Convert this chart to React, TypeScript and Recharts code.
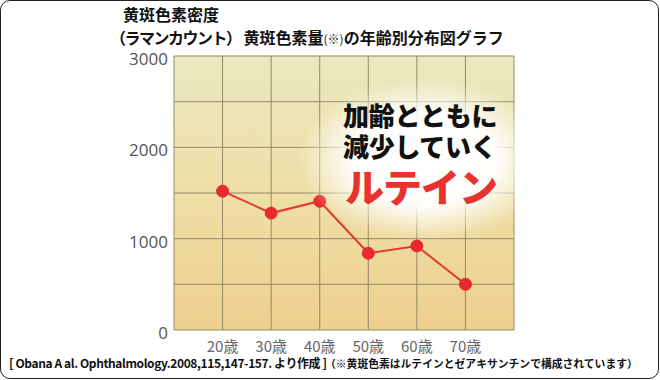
import React from 'react';
import { LineChart, Line, XAxis, YAxis, CartesianGrid } from 'recharts';

const ageLabels = ['20歳', '30歳', '40歳', '50歳', '60歳', '70歳'];
const mpodValues = [1520, 1280, 1410, 840, 920, 500];
const yTicks = [0, 500, 1000, 1500, 2000, 2500, 3000];
const xTicks = [0, 1, 2, 3, 4, 5, 6, 7];

const titleLine1 = '黄斑色素密度';
const titleLine2a = '（ラマンカウント）';
const titleLine2b = '黄斑色素量';
const titleLine2c = '(※)';
const titleLine2d = 'の年齢別分布図グラフ';
const callout1 = '加齢とともに';
const callout2 = '減少していく';
const callout3 = 'ルテイン';
const footer1 = '[ Obana A al. Ophthalmology.2008,115,147-157. より作成 ]';
const footer2 = '（※黄斑色素はルテインとゼアキサンチンで構成されています）';

const data = mpodValues.map((v, i) => ({ x: i + 1, age: ageLabels[i], value: v }));

const jp = '"Noto Sans CJK JP", "Noto Sans", sans-serif';

export default function App() {
  return (
    <div style={{ position: 'absolute', left: 0, top: 0, width: 660, height: 380, background: '#fff', fontFamily: jp }}>
      <LineChart width={660} height={380} data={data} margin={{ top: 56, right: 146, bottom: 20, left: 114 }}>
        <defs>
          <linearGradient id="bgGrad" x1="0" y1="0" x2="0" y2="1">
            <stop offset="0%" stopColor="#e9e8bf" />
            <stop offset="50%" stopColor="#efdfa6" />
            <stop offset="100%" stopColor="#eecf8f" />
          </linearGradient>
        </defs>
        <CartesianGrid stroke="#938a66" strokeWidth={1} fill="url(#bgGrad)" fillOpacity={1} />
        <XAxis
          dataKey="x"
          type="number"
          domain={[0, 7]}
          ticks={xTicks}
          interval={0}
          tickFormatter={(v: number) => (v >= 1 && v <= 6 ? ageLabels[v - 1] : '')}
          axisLine={false}
          tickLine={false}
          height={30}
          tickMargin={5}
          tick={{ fill: '#666', fontSize: 15, fontFamily: jp }}
        />
        <YAxis
          type="number"
          domain={[0, 3000]}
          ticks={yTicks}
          interval={0}
          tickFormatter={(v: number) => (v % 1000 === 0 ? String(v) : '')}
          axisLine={false}
          tickLine={false}
          width={60}
          tickMargin={0}
          tick={{ fill: '#555', fontSize: 17, fontFamily: '"Open Sans", "Noto Sans", sans-serif', dy: 3 }}
        />
        <Line
          dataKey="value"
          stroke="#e2392b"
          strokeWidth={2}
          dot={{ r: 6, fill: '#e62a2d', stroke: '#e62a2d', strokeWidth: 1 }}
          isAnimationActive={false}
        />
      </LineChart>

      {/* glow behind callout */}
      <div
        style={{
          position: 'absolute',
          left: 300,
          top: 80,
          width: 250,
          height: 160,
          background: 'radial-gradient(ellipse at center, rgba(255,255,255,1) 0%, rgba(255,255,255,0.95) 40%, rgba(255,255,255,0) 72%)',
          pointerEvents: 'none',
        }}
      />
      <div style={{ position: 'absolute', left: 343, top: 99, fontSize: 26, fontWeight: 900, color: '#111', lineHeight: '31px', letterSpacing: -0.3, whiteSpace: 'nowrap' }}>
        <div>{callout1}</div>
        <div>{callout2}</div>
      </div>
      <div style={{ position: 'absolute', left: 345, top: 161, fontSize: 39, fontWeight: 900, color: '#e8322e', lineHeight: '48px', letterSpacing: -1, whiteSpace: 'nowrap' }}>
        {callout3}
      </div>

      {/* title */}
      <div style={{ position: 'absolute', left: 123, top: 4, fontSize: 16, fontWeight: 700, color: '#111', lineHeight: '20px', whiteSpace: 'nowrap' }}>
        {titleLine1}
      </div>
      <div style={{ position: 'absolute', left: 110, top: 27, fontSize: 16, fontWeight: 700, color: '#111', lineHeight: '20px', whiteSpace: 'nowrap' }}>
        <span style={{ letterSpacing: -1.5 }}>{titleLine2a}</span>
        <span style={{ marginLeft: 3 }}>{titleLine2b}</span>
        <span style={{ fontSize: 12, fontWeight: 400 }}>{titleLine2c}</span>
        <span>{titleLine2d}</span>
      </div>

      {/* footer */}
      <div style={{ position: 'absolute', left: 9, top: 354, fontSize: 12, fontWeight: 700, color: '#111', lineHeight: '18px', whiteSpace: 'nowrap', letterSpacing: -0.4 }}>
        {footer1}
      </div>
      <div style={{ position: 'absolute', left: 325, top: 356, fontSize: 10.8, fontWeight: 700, color: '#111', lineHeight: '14px', whiteSpace: 'nowrap' }}>
        {footer2}
      </div>

      {/* outer frame */}
      <div
        style={{
          position: 'absolute',
          left: 0,
          top: 0,
          width: 657,
          height: 377,
          border: '1.5px solid #222',
          borderRadius: 10,
          pointerEvents: 'none',
        }}
      />
    </div>
  );
}
